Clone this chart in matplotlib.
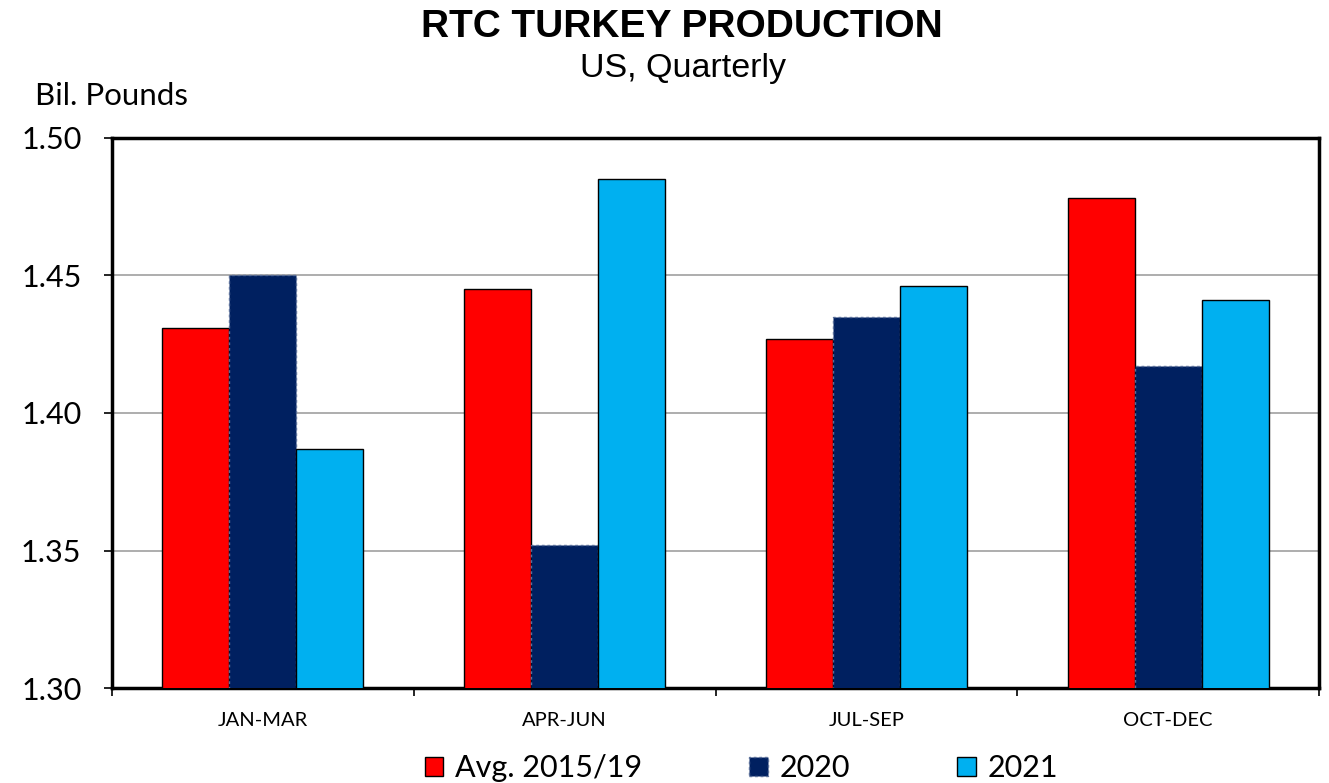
import numpy as np
import matplotlib.pyplot as plt
from matplotlib.patches import Patch

quarters = ["JAN-MAR", "APR-JUN", "JUL-SEP", "OCT-DEC"]
avg_2015_19 = [1.431, 1.445, 1.427, 1.478]
y2020 = [1.450, 1.352, 1.435, 1.417]
y2021 = [1.387, 1.485, 1.446, 1.441]

red = "#ff0000"
navy = "#002060"
cyan = "#00b0f0"

fig = plt.figure(figsize=(13.29, 7.83), dpi=100)
ax = fig.add_axes([0.0843, 0.1213, 0.9082, 0.7025])

x = np.arange(len(quarters))
w = 0.222
ax.bar(x - w, avg_2015_19, w, color=red, edgecolor="black", linewidth=1, zorder=3)
ax.bar(x, y2020, w, color=navy, edgecolor="#5a6f99", linewidth=1, linestyle=(0, (2, 2)), zorder=3)
ax.bar(x + w, y2021, w, color=cyan, edgecolor="black", linewidth=1, zorder=3)

ax.set_ylim(1.30, 1.50)
ax.set_xlim(-0.5, 3.5)
yt = np.arange(1.30, 1.501, 0.05)
ax.set_yticks(yt)
ax.set_yticklabels([f"{v:.2f}" for v in yt], fontsize=22, family="Lato")
ax.yaxis.grid(True, color="#a0a0a0", linewidth=1.2, zorder=0)

# ticks at group boundaries, labels at centers
ax.set_xticks(np.arange(-0.5, 3.6, 1.0))
ax.set_xticklabels([])
ax.set_xticks(x, minor=True)
ax.set_xticklabels(quarters, minor=True, fontsize=14.5, family="Lato")
ax.tick_params(axis="x", which="minor", length=0, pad=17)
ax.tick_params(axis="x", which="major", length=6, width=1.2, direction="out")
ax.tick_params(axis="y", length=6, width=1.2, direction="out", pad=16)

for s in ax.spines.values():
    s.set_linewidth(2.5)
    s.set_color("black")

fig.text(0.513, 0.965, "RTC TURKEY PRODUCTION", ha="center", va="center",
         fontsize=28, fontweight="bold", family="Liberation Sans")
fig.text(0.514, 0.912, "US, Quarterly", ha="center", va="center",
         fontsize=24.5, family="Liberation Sans")
fig.text(0.026, 0.877, "Bil. Pounds", ha="left", va="center", fontsize=22.5, family="Lato")

handles = [
    Patch(facecolor=red, edgecolor="black", label="Avg. 2015/19"),
    Patch(facecolor=navy, edgecolor="#5a6f99", linestyle=(0, (2, 2)), label="2020"),
    Patch(facecolor=cyan, edgecolor="black", label="2021"),
]
fig.legend(handles=handles, loc="center", bbox_to_anchor=(0.558, 0.019), ncol=3,
           frameon=False, prop={"family": "Lato", "size": 22},
           handlelength=0.6, handleheight=0.6, handletextpad=0.4, columnspacing=3.5,
           borderpad=0)

fig.savefig("out.png", dpi=100)
